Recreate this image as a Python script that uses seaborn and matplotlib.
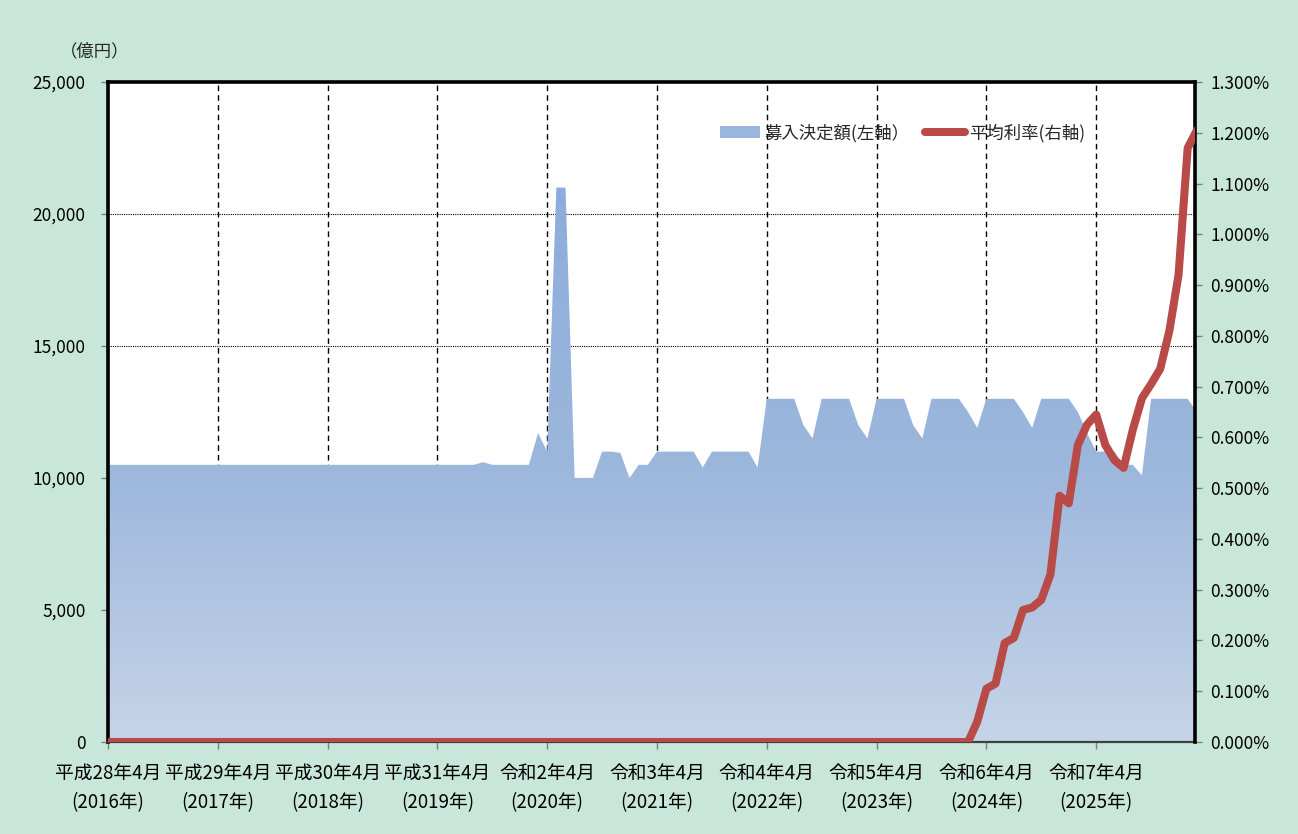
import numpy as np
import pandas as pd
import seaborn as sns
import matplotlib.pyplot as plt
from matplotlib.colors import LinearSegmentedColormap
from matplotlib.lines import Line2D
from matplotlib.patches import Patch
import matplotlib.ticker as mticker

# monthly points, April 2016 .. March 2026 (one row per fiscal year)
amount = [
    10500, 10500, 10500, 10500, 10500, 10500, 10500, 10500, 10500, 10500, 10500, 10500,
    10500, 10500, 10500, 10500, 10500, 10500, 10500, 10500, 10500, 10500, 10500, 10500,
    10500, 10500, 10500, 10500, 10500, 10500, 10500, 10500, 10500, 10500, 10500, 10500,
    10500, 10500, 10500, 10500, 10500, 10600, 10500, 10500, 10500, 10500, 10500, 11700,
    11000, 21000, 21000, 10000, 10000, 10000, 11000, 11000, 10950, 10000, 10500, 10500,
    11000, 11000, 11000, 11000, 11000, 10400, 11000, 11000, 11000, 11000, 11000, 10400,
    13000, 13000, 13000, 13000, 12000, 11500, 13000, 13000, 13000, 13000, 12000, 11500,
    13000, 13000, 13000, 13000, 12000, 11500, 13000, 13000, 13000, 13000, 12500, 11900,
    13000, 13000, 13000, 13000, 12500, 11900, 13000, 13000, 13000, 13000, 12500, 11700,
    11000, 11000, 11000, 10500, 10500, 10100, 13000, 13000, 13000, 13000, 13000, 12500,
]

# average rate, %
rate = [
    0, 0, 0, 0, 0, 0, 0, 0, 0, 0, 0, 0,
    0, 0, 0, 0, 0, 0, 0, 0, 0, 0, 0, 0,
    0, 0, 0, 0, 0, 0, 0, 0, 0, 0, 0, 0,
    0, 0, 0, 0, 0, 0, 0, 0, 0, 0, 0, 0,
    0, 0, 0, 0, 0, 0, 0, 0, 0, 0, 0, 0,
    0, 0, 0, 0, 0, 0, 0, 0, 0, 0, 0, 0,
    0, 0, 0, 0, 0, 0, 0, 0, 0, 0, 0, 0,
    0, 0, 0, 0, 0, 0, 0, 0, 0, 0, 0, 0.04,
    0.105, 0.115, 0.195, 0.205, 0.26, 0.265, 0.28, 0.33, 0.485, 0.47, 0.585, 0.625,
    0.645, 0.585, 0.555, 0.54, 0.615, 0.677, 0.705, 0.735, 0.81, 0.92, 1.17, 1.205,
]

tick_labels = [
    "平成28年4月\n(2016年)", "平成29年4月\n(2017年)", "平成30年4月\n(2018年)",
    "平成31年4月\n(2019年)", "令和2年4月\n(2020年)", "令和3年4月\n(2021年)",
    "令和4年4月\n(2022年)", "令和5年4月\n(2023年)", "令和6年4月\n(2024年)",
    "令和7年4月\n(2025年)",
]

df = pd.DataFrame({"month": np.arange(len(amount)), "amount": amount, "rate": rate})

sns.set_theme(style="white")
plt.rcParams["font.family"] = ["Noto Sans CJK JP", "DejaVu Sans"]

bg = "#C9E6DB"
fig = plt.figure(figsize=(12.98, 8.34), dpi=100, facecolor=bg)
ax = fig.add_axes([108 / 1298, 1 - 742 / 834, 1087 / 1298, 660 / 834])
ax.set_facecolor("white")

# area with vertical gradient
poly = ax.fill_between(df["month"], df["amount"], 0, facecolor="none", edgecolor="none")
cmap = LinearSegmentedColormap.from_list(
    "area", [(0, "#C6D4E8"), (0.5, "#9CB7DC"), (1, "#8CADDB")])
grad = np.linspace(0, 1, 256).reshape(-1, 1)
img = ax.imshow(grad, cmap=cmap, origin="lower", aspect="auto",
                extent=[0, df["month"].max(), 0, max(amount)], zorder=2)
img.set_clip_path(poly.get_paths()[0], transform=ax.transData)

ax.set_xlim(0, 118.8)
ax.set_ylim(0, 25000)
ax.set_yticks(np.arange(0, 25001, 5000))
ax.yaxis.set_major_formatter(mticker.StrMethodFormatter("{x:,.0f}"))
ax.set_xticks(np.arange(0, 109, 12))
ax.set_xticklabels(tick_labels, linespacing=1.5)
ax.set_axisbelow(True)
ax.grid(axis="y", color="black", linestyle=(0, (1, 1)), linewidth=0.8)
ax.grid(axis="x", color="black", linestyle=(0, (4, 3)), linewidth=1.0)
ax.tick_params(axis="both", direction="out", length=5, width=1, color="#7f7f7f",
               labelsize=12.5, labelcolor="black", left=True, bottom=True)
ax.tick_params(axis="y", pad=11)
ax.tick_params(axis="x", labelsize=13.5, pad=10)
for s in ["left", "top"]:
    ax.spines[s].set_color("black")
    ax.spines[s].set_linewidth(2.6)
ax.spines["bottom"].set_color("#404040")
ax.spines["bottom"].set_linewidth(1.6)
ax.spines["right"].set_visible(False)

ax2 = ax.twinx()
sns.lineplot(data=df, x="month", y="rate", ax=ax2, color="#B84A47", linewidth=5.8,
             solid_capstyle="round", solid_joinstyle="round", zorder=3)
ax2.set_ylim(0, 1.3)
ax2.set_xlim(0, 118.8)
ax2.set_yticks(np.arange(0, 1.31, 0.1))
ax2.yaxis.set_major_formatter(mticker.StrMethodFormatter("{x:.3f}%"))
ax2.set_xlabel("")
ax2.set_ylabel("")
ax2.tick_params(axis="y", direction="out", length=5, width=1, color="#7f7f7f",
                labelsize=12.5, labelcolor="black", right=True, pad=6)
for s in ["left", "top", "bottom"]:
    ax2.spines[s].set_visible(False)
ax2.spines["right"].set_color("black")
ax2.spines["right"].set_linewidth(2.6)

ax.set_xlabel("")
ax.set_ylabel("")
fig.text(95 / 1298, 1 - 51 / 834, "（億円）", ha="center", va="center", fontsize=12.5)

handles = [
    Patch(facecolor="#9BB6DD", edgecolor="none"),
    Line2D([0], [0], color="#B84A47", linewidth=5.8, solid_capstyle="round"),
]
ax2.legend(handles, ["募入決定額(左軸）", "平均利率(右軸)"], loc="center left",
           bbox_to_anchor=(0.549, 0.923), ncol=2, frameon=False, fontsize=12.5,
           handlelength=2.3, handleheight=0.7, handletextpad=0.25, columnspacing=0.9)

fig.savefig("out.png", dpi=100, facecolor=bg)
